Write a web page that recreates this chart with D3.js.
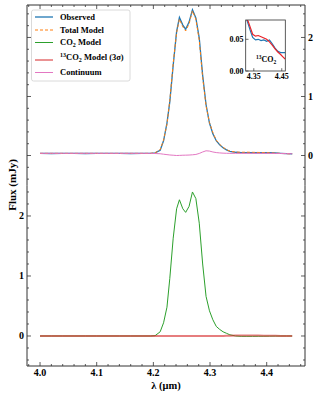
<!DOCTYPE html>
<meta charset="utf-8">
<style>
  body { margin: 0; background: #fff; }
  text { font-family: "Liberation Serif", "DejaVu Serif", serif; font-weight: bold; }
</style>
<svg width="319" height="399"></svg>
<script src="https://d3js.org/d3.v7.min.js"></script>
<script>
// wavelength grid (um) shared by the main spectra
var lam = [4.000, 4.020, 4.040, 4.060, 4.080, 4.100, 4.120, 4.140, 4.160, 4.180, 4.195,
  4.203, 4.212, 4.218, 4.224, 4.229, 4.235, 4.241, 4.246, 4.252, 4.257, 4.263, 4.269,
  4.275, 4.281, 4.287, 4.293, 4.299, 4.305, 4.311, 4.317, 4.323, 4.329, 4.335, 4.345,
  4.355, 4.365, 4.375, 4.385, 4.395, 4.405, 4.415, 4.425, 4.435, 4.445]

var observed = [0.035, 0.034, 0.036, 0.035, 0.034, 0.035, 0.036, 0.035, 0.034, 0.036, 0.037,
  0.045, 0.09, 0.25, 0.55, 0.91, 1.53, 2.10, 2.34, 2.21, 2.14, 2.26, 2.47,
  2.33, 1.99, 1.36, 0.86, 0.55, 0.37, 0.25, 0.18, 0.13, 0.095, 0.07, 0.055,
  0.048, 0.048, 0.047, 0.049, 0.047, 0.049, 0.043, 0.036, 0.031, 0.030]

var totalModel = [0.036, 0.036, 0.036, 0.036, 0.036, 0.036, 0.036, 0.036, 0.036, 0.036, 0.037,
  0.045, 0.10, 0.26, 0.53, 0.93, 1.56, 2.08, 2.31, 2.18, 2.11, 2.23, 2.45,
  2.31, 1.95, 1.32, 0.84, 0.56, 0.39, 0.26, 0.19, 0.14, 0.10, 0.075, 0.058,
  0.055, 0.056, 0.054, 0.052, 0.050, 0.046, 0.041, 0.036, 0.031, 0.027]

var co2Model = [0, 0, 0, 0, 0, 0, 0, 0, 0, 0, 0,
  0.005, 0.07, 0.22, 0.48, 0.96, 1.63, 2.12, 2.27, 2.12, 2.06, 2.16, 2.40,
  2.29, 1.88, 1.20, 0.66, 0.42, 0.27, 0.16, 0.11, 0.07, 0.045, 0.02, 0.0,
  -0.005, -0.005, -0.005, -0.004, -0.003, -0.002, -0.001, 0, 0, 0]

var c13Model = [0, 0, 0, 0, 0, 0, 0, 0, 0, 0, 0,
  0, 0, 0, 0, 0, 0, 0, 0, 0, 0, 0, 0,
  0, 0, 0, 0, 0, 0, 0, 0, 0.002, 0.004, 0.006, 0.008,
  0.009, 0.009, 0.008, 0.007, 0.005, 0.004, 0.003, 0.002, 0.001, 0]

var continuum = [0.037, 0.037, 0.037, 0.037, 0.037, 0.037, 0.037, 0.037, 0.037, 0.037, 0.036,
  0.034, 0.030, 0.022, 0.015, 0.009, 0.005, 0.0, 0.002, 0.005, 0.006, 0.008, 0.012,
  0.018, 0.035, 0.06, 0.08, 0.075, 0.06, 0.05, 0.044, 0.04, 0.038, 0.037, 0.037,
  0.037, 0.037, 0.037, 0.037, 0.037, 0.036, 0.035, 0.034, 0.032, 0.030]

// inset (13CO2 region)
var insetLam = [4.322, 4.330, 4.338, 4.346, 4.356, 4.366, 4.376, 4.386, 4.396, 4.406,
  4.416, 4.426, 4.436, 4.446, 4.455, 4.462]
var insetObs = [0.085, 0.074, 0.063, 0.053, 0.049, 0.050, 0.048, 0.049, 0.047, 0.049,
  0.043, 0.036, 0.031, 0.029, 0.029, 0.029]
var insetModel = [0.085, 0.078, 0.068, 0.058, 0.055, 0.056, 0.054, 0.052, 0.050, 0.046,
  0.041, 0.035, 0.030, 0.026, 0.022, 0.019]

var xTicks = [4.0, 4.1, 4.2, 4.3, 4.4]
var yTicks = [0, 1, 2]

var C = { blue: "#1f77b4", orange: "#ff7f0e", green: "#2ca02c", red: "#d62728", pink: "#e377c2" }

var svg = d3.select("svg")
var left = 27, right = 305

var x = d3.scaleLinear().domain([3.977, 4.4676]).range([left, right])
var yTop = d3.scaleLinear().domain([-0.508, 2.55]).range([185.5, 5])
var yBot = d3.scaleLinear().domain([-0.5, 2.508]).range([366, 185.5])

var pts = function (ys) { return lam.map(function (l, i) { return [l, ys[i]] }) }

// edge: which horizontal spine the panel draws ("top" or "bottom")
function drawPanel(y, labelSide, edge) {
  var g = svg.append("g")
  var y0 = y.range()[0], y1 = y.range()[1]
  var ye = edge === "top" ? y1 : y0, dir = edge === "top" ? 1 : -1
  var xMinor = d3.range(3.98, 4.47, 0.02)
  var yMinor = d3.range(-0.4, y.domain()[1], 0.2)
  xMinor.forEach(function (t) {
    var major = Math.abs(t * 10 - Math.round(t * 10)) < 1e-6
    var len = major ? 4 : 2
    g.append("line").attr("x1", x(t)).attr("x2", x(t)).attr("y1", ye).attr("y2", ye + dir * len)
  })
  yMinor.forEach(function (t) {
    var major = Math.abs(t - Math.round(t)) < 1e-6
    var len = major ? 4 : 2
    g.append("line").attr("x1", left).attr("x2", left + len).attr("y1", y(t)).attr("y2", y(t))
    g.append("line").attr("x1", right).attr("x2", right - len).attr("y1", y(t)).attr("y2", y(t))
  })
  g.selectAll("line").attr("stroke", "#333").attr("stroke-width", 0.8)
  g.append("path")
    .attr("d", edge === "top"
      ? "M" + left + "," + y0 + "V" + y1 + "H" + right + "V" + y0
      : "M" + left + "," + y1 + "V" + y0 + "H" + right + "V" + y1)
    .attr("fill", "none").attr("stroke", "#333").attr("stroke-width", 1)
  yTicks.forEach(function (t) {
    g.append("text").attr("x", labelSide === "left" ? left - 3 : right + 3)
      .attr("y", y(t)).attr("dy", "0.35em")
      .attr("text-anchor", labelSide === "left" ? "end" : "start")
      .attr("font-size", 10).text(t)
  })
  return g
}

function drawLine(y, data, color, width, dash, opacity) {
  var line = d3.line().x(function (d) { return x(d[0]) }).y(function (d) { return y(d[1]) })
  svg.append("path").datum(data).attr("d", line).attr("fill", "none")
    .attr("stroke", color).attr("stroke-width", width)
    .attr("stroke-dasharray", dash || null).attr("stroke-opacity", opacity || 1)
}

drawPanel(yTop, "right", "top")
drawPanel(yBot, "left", "bottom")

// top panel spectra
drawLine(yTop, pts(observed), C.blue, 1.3)
drawLine(yTop, pts(totalModel), C.orange, 1, "3,2")
drawLine(yTop, pts(continuum), C.pink, 1)

// bottom panel models
drawLine(yBot, pts(co2Model), C.green, 1)
drawLine(yBot, pts(c13Model), C.red, 2, null, 0.6)

// x tick labels
xTicks.forEach(function (t) {
  svg.append("text").attr("x", x(t)).attr("y", 376).attr("text-anchor", "middle")
    .attr("font-size", 10).text(d3.format(".1f")(t))
})
svg.append("text").attr("x", 166).attr("y", 389).attr("text-anchor", "middle")
  .attr("font-size", 10.5).text("λ (μm)")
svg.append("text").attr("transform", "translate(16,185) rotate(-90)")
  .attr("text-anchor", "middle").attr("font-size", 11).text("Flux (mJy)")

// legend
var leg = svg.append("g")
leg.append("rect").attr("x", 31.5).attr("y", 10).attr("width", 98.5).attr("height", 71)
  .attr("rx", 2).attr("fill", "#fff").attr("fill-opacity", 0.8)
  .attr("stroke", "#d0d0d0").attr("stroke-width", 0.8)
var items = [
  { y: 17, color: C.blue, dash: null, w: 1.3 },
  { y: 30, color: C.orange, dash: "3,2", w: 1 },
  { y: 42.5, color: C.green, dash: null, w: 1 },
  { y: 60, color: C.red, dash: null, w: 1 },
  { y: 72.5, color: C.pink, dash: null, w: 1 }
]
items.forEach(function (it) {
  leg.append("line").attr("x1", 35).attr("x2", 53).attr("y1", it.y).attr("y2", it.y)
    .attr("stroke", it.color).attr("stroke-width", it.w).attr("stroke-dasharray", it.dash)
})
function legText(yy) {
  return leg.append("text").attr("x", 60).attr("y", yy).attr("dy", "0.35em").attr("font-size", 8.5)
}
legText(17).text("Observed")
legText(30).text("Total Model")
var t3 = legText(42.5)
t3.append("tspan").text("CO")
t3.append("tspan").attr("font-size", 6).attr("dy", 2).text("2")
t3.append("tspan").attr("dy", -2).text(" Model")
var t4 = legText(60)
t4.append("tspan").attr("font-size", 6).attr("dy", -3.5).text("13")
t4.append("tspan").attr("dy", 3.5).text("CO")
t4.append("tspan").attr("font-size", 6).attr("dy", 2).text("2")
t4.append("tspan").attr("dy", -2).text(" Model (3σ)")
legText(72.5).text("Continuum")

// inset
var ix = d3.scaleLinear().domain([4.321, 4.4627]).range([245.7, 285.3])
var iy = d3.scaleLinear().domain([0, 0.0805]).range([71, 20])
var ins = svg.append("g")
ins.append("rect").attr("x", 245.7).attr("y", 20).attr("width", 39.6).attr("height", 51)
  .attr("fill", "#fff")
ins.append("clipPath").attr("id", "ic").append("rect")
  .attr("x", 245.7).attr("y", 20).attr("width", 39.6).attr("height", 51)
var iline = d3.line().x(function (d) { return ix(d[0]) }).y(function (d) { return iy(d[1]) })
ins.append("path").datum(insetLam.map(function (l, i) { return [l, insetObs[i]] }))
  .attr("d", iline).attr("fill", "none").attr("stroke", C.blue).attr("stroke-width", 1.2)
  .attr("clip-path", "url(#ic)")
ins.append("path").datum(insetLam.map(function (l, i) { return [l, insetModel[i]] }))
  .attr("d", iline).attr("fill", "none").attr("stroke", "#e8242a").attr("stroke-width", 1.2)
  .attr("clip-path", "url(#ic)")
ins.append("rect").attr("x", 245.7).attr("y", 20).attr("width", 39.6).attr("height", 51)
  .attr("fill", "none").attr("stroke", "#333").attr("stroke-width", 0.8)
;[0, 0.05].forEach(function (t) {
  ins.append("line").attr("x1", 245.7).attr("x2", 248.5).attr("y1", iy(t)).attr("y2", iy(t))
    .attr("stroke", "#333").attr("stroke-width", 0.7)
  ins.append("text").attr("x", 243.5).attr("y", iy(t)).attr("dy", "0.35em")
    .attr("text-anchor", "end").attr("font-size", 8).text(d3.format(".2f")(t))
})
;[4.35, 4.45].forEach(function (t) {
  ins.append("line").attr("x1", ix(t)).attr("x2", ix(t)).attr("y1", 71).attr("y2", 68.2)
    .attr("stroke", "#333").attr("stroke-width", 0.7)
  ins.append("text").attr("x", ix(t)).attr("y", 79).attr("text-anchor", "middle")
    .attr("font-size", 8).text(d3.format(".2f")(t))
})
var lab = ins.append("text").attr("x", 256).attr("y", 62).attr("font-size", 8)
lab.append("tspan").attr("font-size", 5.5).attr("dy", -3).text("13")
lab.append("tspan").attr("dy", 3).text("CO")
lab.append("tspan").attr("font-size", 5.5).attr("dy", 1.5).text("2")
</script>
